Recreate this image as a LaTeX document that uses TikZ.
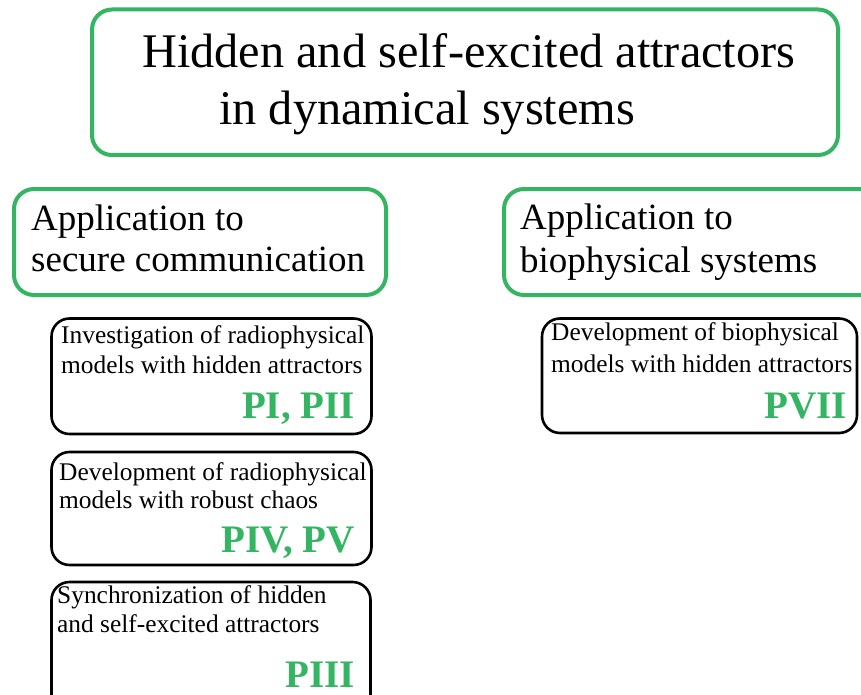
\documentclass[tikz,border=0pt]{standalone}
\usepackage{fontspec}
\setmainfont{Liberation Serif}
\definecolor{FrameClr}{rgb}{0.2,0.71,0.38}

\begin{document}
\begin{tikzpicture}[x=1pt,y=-1pt,
  mainbox/.style={draw=FrameClr,line width=4pt,rounded corners=20pt},
  workbox/.style={draw=black,line width=2.6pt,rounded corners=18pt},
  headtxt/.style={anchor=base west,inner sep=0pt,font=\fontsize{48.3}{48}\selectfont},
  apptxt/.style={anchor=base west,inner sep=0pt,font=\fontsize{37}{37}\selectfont},
  worktxt/.style={anchor=base west,inner sep=0pt,font=\fontsize{25.4}{25}\selectfont},
  papers/.style={anchor=base east,inner sep=0pt,text=FrameClr,font=\fontsize{39}{39}\selectfont\bfseries}]
\useasboundingbox (0,0) rectangle (861,695);
\clip (0,0) rectangle (861,695);

\draw[mainbox] (92,9.5) rectangle (838,155);
\draw[mainbox] (14,189) rectangle (386,295);
\draw[mainbox] (504,189) rectangle (890,295);

\draw[workbox] (51.5,318.5) rectangle (371.5,434);
\draw[workbox] (51.5,452) rectangle (371.5,565);
\draw[workbox] (51.5,582) rectangle (370.5,720);
\draw[workbox] (542,318.5) rectangle (857,433);

\node[headtxt] (head1) at (142,68) {Hidden and self-excited attractors};
\node[headtxt] (head2) at (219,125) {in dynamical systems};

\node[apptxt] (sec1) at (31,230) {Application to};
\node[apptxt] (sec2) at (31,271) {secure communication};
\node[apptxt] (bio1) at (520,229) {Application to};
\node[apptxt] (bio2) at (520,272) {biophysical systems};

\node[worktxt] (inv1) at (61,343) {Investigation of radiophysical};
\node[worktxt] (inv2) at (61,373) {models with hidden attractors};
\node[papers] (invp) at (355,418) {PI, PII};

\node[worktxt] (dev1) at (59,480) {Development of radiophysical};
\node[worktxt] (dev2) at (59,508) {models with robust chaos};
\node[papers] (devp) at (355,552) {PIV, PV};

\node[worktxt] (syn1) at (57,603) {Synchronization of hidden};
\node[worktxt] (syn2) at (57,632) {and self-excited attractors};
\node[papers] (synp) at (355,687) {PIII};

\node[worktxt] (bph1) at (551,340) {Development of biophysical};
\node[worktxt] (bph2) at (551,372) {models with hidden attractors};
\node[papers] (bphp) at (847,418) {PVII};

\end{tikzpicture}
\end{document}
